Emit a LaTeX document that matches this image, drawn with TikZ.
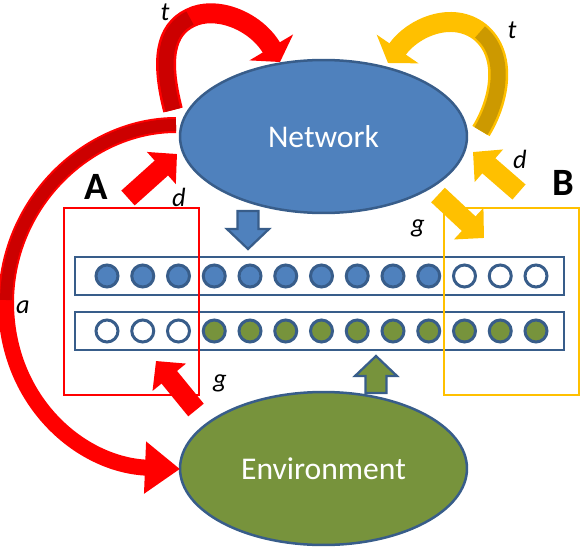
\documentclass[tikz,border=0pt]{standalone}
\usepackage{fontspec}
\setmainfont{Carlito}
\usetikzlibrary{shapes.geometric,arrows.meta}
\definecolor{netblue}{RGB}{79,129,189}
\definecolor{netborder}{RGB}{56,93,138}
\definecolor{envgreen}{RGB}{119,147,60}
\definecolor{ared}{RGB}{255,0,0}
\definecolor{ashade}{RGB}{204,0,0}
\definecolor{byellow}{RGB}{255,192,0}
\definecolor{bshade}{RGB}{204,153,0}

\begin{document}
\begin{tikzpicture}[x=0.02cm, y=-0.02cm,
    blob/.style={ellipse, draw=netborder, line width=0.05cm, minimum width=5.74cm, minimum height=3.06cm, inner sep=0pt, text=white, font=\fontsize{18}{20}\selectfont},
    bar/.style={draw=netborder, line width=0.055cm, fill=white, minimum width=9.78cm, minimum height=0.76cm, inner sep=0pt},
    unit/.style={circle, draw=netborder, line width=0.06cm, minimum size=0.44cm, inner sep=0pt},
    zone/.style={draw, line width=0.05cm, minimum width=2.7cm, minimum height=3.74cm, inner sep=0pt},
    lbl/.style={font=\fontsize{15}{17}\selectfont\itshape},
    big/.style={font=\fontsize{22}{24}\selectfont\bfseries},
    fat/.style={line width=0.4cm, -{Triangle[width=0.84cm, length=0.42cm]}},
    curl/.style={line width=0.4cm, -{Triangle[width=1.0cm, length=0.34cm]}},
    sweep/.style={line width=0.32cm, -{Triangle[width=1.0cm, length=0.7cm]}}
]
    \useasboundingbox (0,0) rectangle (582,548);

    % Ellipses
    \node[blob, fill=netblue] (net) at (323.5,136.5) {Network};
    \node[blob, fill=envgreen] (env) at (323.5,468.5) {Environment};

    % Bars and units
    \node[bar] (upper) at (319.5,276) {};
    \node[bar] (lower) at (319.5,331) {};
    \foreach \i in {0,...,9}
        \node[unit, fill=netblue] (up\i) at ({107+35.75*\i},276) {};
    \foreach \i in {10,11,12}
        \node[unit, fill=white] (up\i) at ({107+35.75*\i},276) {};
    \foreach \i in {0,1,2}
        \node[unit, fill=white] (lo\i) at ({107+35.75*\i},331) {};
    \foreach \i in {3,...,12}
        \node[unit, fill=envgreen] (lo\i) at ({107+35.75*\i},331) {};

    % Boxes
    \node[zone, draw=ared] (boxA) at (131.5,301.5) {};
    \node[zone, draw=byellow] (boxB) at (511.5,301.5) {};

    % Block arrows
    \filldraw[fill=netblue, draw=netborder, line width=0.045cm] (237.5,211) -- (258.5,211) -- (258.5,229) -- (269,229) -- (248,249) -- (227,229) -- (237.5,229) -- cycle;
    \filldraw[fill=envgreen, draw=netborder, line width=0.045cm] (365.5,393) -- (386.5,393) -- (386.5,376) -- (397,376) -- (376,356) -- (355,376) -- (365.5,376) -- cycle;

    % End points
    \coordinate (a0) at (176,125);
    \coordinate (a1) at (180,469);
    \coordinate (tA0) at (173,110);
    \coordinate (tA1) at (280,62);
    \coordinate (tB0) at (481,131);
    \coordinate (tB1) at (388,63);
    \coordinate (dA0) at (128,198);
    \coordinate (dA1) at (177,154);
    \coordinate (gA0) at (196,410);
    \coordinate (gA1) at (156,361);
    \coordinate (dB0) at (519,192);
    \coordinate (dB1) at (473,152);
    \coordinate (gB0) at (438,195);
    \coordinate (gB1) at (484,238);

    % Arrows
    \draw[sweep, ared] (a0) .. controls (90,125) and (8,200) .. (6,300) .. controls (5,400) and (80,465) .. (a1);
    \draw[ashade, line width=0.24cm] (a0) .. controls (90,125) and (8,200) .. (6,300);
    \draw[curl, ared] (tA0) .. controls (160,60) and (165,30) .. (190,18) .. controls (215,5) and (255,20) .. (tA1);
    \draw[ashade, line width=0.3cm] (tA0) .. controls (160,60) and (165,30) .. (190,18);
    \draw[curl, byellow] (tB0) .. controls (500,100) and (508,55) .. (480,32) .. controls (452,10) and (412,28) .. (tB1);
    \draw[bshade, line width=0.3cm] (tB0) .. controls (500,100) and (508,55) .. (480,32);
    \draw[fat, ared] (dA0) -- (dA1);
    \draw[fat, ared] (gA0) -- (gA1);
    \draw[fat, byellow] (dB0) -- (dB1);
    \draw[fat, byellow] (gB0) -- (gB1);

    % Labels
    \node[lbl] (tAl) at (165,12) {t};
    \node[lbl] (tBl) at (512,30) {t};
    \node[lbl] (dAl) at (179,197) {d};
    \node[lbl] (dBl) at (520,159) {d};
    \node[lbl] (gAl) at (220,383) {g};
    \node[lbl] (gBl) at (418,228) {g};
    \node[lbl] (al) at (23,307) {a};
    \node[big] (Al) at (96,187) {A};
    \node[big] (Bl) at (563,183) {B};
\end{tikzpicture}
\end{document}
